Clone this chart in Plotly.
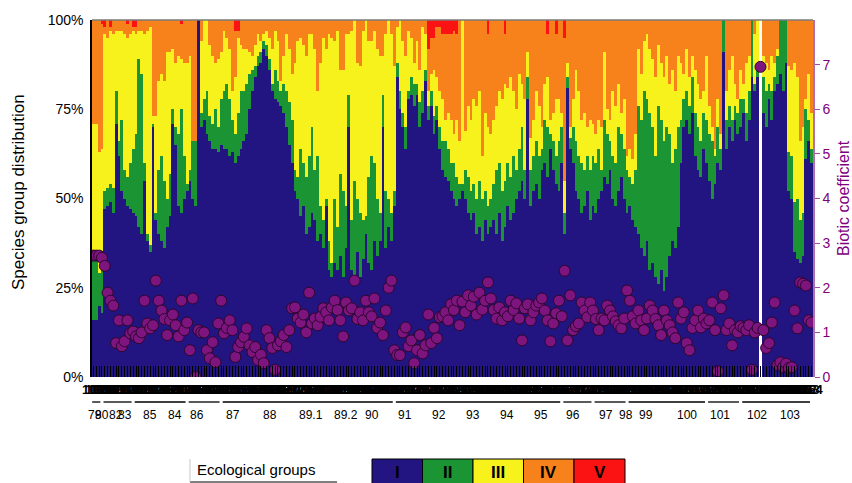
import plotly.graph_objects as go

# ---------------- data ----------------
# cumulative upper edge (%) of each ecological group per sample; V fills to 100
cum_I = [16,16,20,18,47,48,49,46,71,62, 52,50,48,47,46,45,42,40,55,38,
         35,70,44,40,38,36,42,45,71,65, 48,46,50,52,55,50,48,100,70,72,
         68,66,64,64,63,65,64,64,62,63, 60,62,64,66,68,75,80,84,87,88,
         92,90,86,80,78,77,76,74,70,65, 60,52,50,45,48,40,42,46,44,38,
         40,36,48,30,28,32,30,34,28,36, 70,30,26,35,28,33,40,32,30,38,
         34,38,70,36,42,38,48,84,75,70, 64,78,79,76,79,70,74,83,72,76,
         68,72,64,58,56,55,52,50,48,50, 52,50,46,44,46,40,42,38,44,40,
         42,44,40,46,38,42,48,44,46,50, 52,55,50,78,48,52,54,50,58,60,
         56,64,58,54,52,60,40,81,64,60, 52,50,46,48,52,44,48,46,50,52,
         56,54,58,50,48,52,56,50,46,48, 44,42,40,36,34,38,30,32,28,26,
         30,24,28,34,38,36,42,60,70,72, 68,74,62,58,56,64,60,55,50,54,
         60,58,91,64,70,66,72,68,70,74, 66,72,84,80,84,None,74,70,78,72,
         80,82,85,80,88,52,50,35,33,32, 34,61,66,60]
cum_II = [34,33,29,30,52,53,54,53,80,66, 72,58,56,60,64,68,89,85,60,40,
          37,71,46,58,62,55,50,57,75,70, 68,75,62,54,58,66,66,100,74,78,
          80,73,71,75,70,78,80,82,78,72, 68,74,80,80,82,85,86,87,90,91,
          94,93,89,82,86,83,80,82,80,77, 72,58,56,64,60,56,62,70,58,62,
          48,44,50,38,32,50,42,57,52,48, 79,44,55,50,46,44,45,56,62,60,
          50,46,79,52,50,46,52,88,80,74, 70,80,84,82,82,77,80,86,76,80,
          73,76,70,66,66,64,60,60,56,54, 54,58,56,52,54,50,55,50,52,48,
          50,54,58,60,52,55,60,56,62,58, 64,70,58,84,58,62,66,62,64,72,
          70,68,66,62,66,70,46,84,67,70, 66,62,60,58,62,58,62,60,64,58,
          72,68,66,62,60,70,68,64,58,56, 54,58,76,72,80,78,74,70,62,76,
          72,66,70,68,60,64,70,72,78,80, 76,84,74,70,66,74,72,68,66,62,
          70,64,100,72,76,72,76,74,78,78, 74,80,100,82,86,None,84,80,82,80,
          84,90,100,100,100,63,62,49,50,44, 46,75,72,64]
cum_III = [71,71,63,64,96,95,97,96,97,97, 97,96,95,96,97,96,97,97,96,97,
           98,73,73,83,85,83,91,91,92,88, 90,89,88,88,90,66,66,100,94,100,
           100,93,90,88,89,91,97,95,92,80, 84,95,93,92,92,91,90,93,96,94,
           96,97,95,92,97,94,83,90,96,92, 85,88,94,95,93,90,96,96,92,80,
           88,95,92,96,95,94,97,86,86,96, 96,97,100,88,87,97,100,94,94,97,
           92,90,90,96,100,96,87,98,100,94, 90,97,95,88,94,86,98,96,80,85,
           86,84,80,78,72,74,72,68,72,66, 100,69,76,72,78,76,80,62,74,70,
           68,72,76,80,78,82,81,84,80,75, 85,82,78,91,67,72,80,76,70,82,
           84,72,74,78,78,74,55,88,70,78, 86,80,72,74,70,72,71,68,72,70,
           91,75,72,80,76,82,74,78,62,64, 61,68,92,85,94,96,92,89,84,93,
           88,84,90,82,86,80,90,88,85,92, 84,90,86,82,78,80,90,76,70,64,
           78,68,100,80,86,90,82,78,86,82, 88,90,100,96,100,None,90,88,86,90,
           88,92,100,100,100,87,86,88,84,66, 70,78,85,74]
cum_IV = [100,100,100,99,98,100,98,100,100,100, 100,100,99,100,98,98,100,100,100,100,
          100,100,100,100,100,100,100,100,100,100, 100,99,100,100,100,100,100,100,100,100,
          100,100,100,100,100,100,100,100,100,100, 97,97,100,100,100,100,100,100,100,100,
          100,100,100,100,100,100,100,100,100,100, 100,100,100,100,100,100,100,100,100,100,
          100,100,100,100,100,100,100,100,100,100, 100,100,100,100,100,100,100,100,100,100,
          100,100,100,100,100,100,100,100,100,100, 100,100,100,100,100,100,100,100,92,95,
          95,98,98,96,96,96,96,97,96,100, 100,100,100,100,100,100,100,100,100,96,
          100,100,100,100,100,96,100,100,100,100, 100,100,100,100,100,100,100,100,100,100,
          96,100,100,96,100,100,95,100,100,100, 100,100,100,100,100,100,100,100,100,100,
          100,100,100,100,100,100,100,100,100,100, 100,100,100,100,100,100,100,100,100,100,
          100,100,100,100,100,100,100,100,100,100, 100,100,100,100,100,100,100,100,100,100,
          100,100,100,100,100,100,100,100,100,100, 100,100,100,100,100,None,100,100,100,100,
          100,100,100,100,100,100,100,100,100,100, 100,100,100,100]

biotic = [2.72,2.72,2.72,2.67,2.49,1.89,1.71,1.6,0.76,1.27, 0.69,0.8,1.27,0.98,1.02,0.91,0.87,1.0,1.71,1.2,
          1.09,1.16,2.16,1.71,1.49,1.3,0.94,1.27,1.4,1.16, 0.91,1.71,1.05,1.22,0.6,1.76,0.0,1.05,1.0,1.0,
          0.6,0.42,0.78,0.33,1.2,1.71,0.98,1.1,1.27,1.05, 0.45,0.67,0.78,0.9,1.09,0.71,0.56,0.67,0.38,0.5,
          0.31,1.05,0.87,0.65,0.16,0.71,0.8,0.94,0.67,1.05, 1.54,1.56,1.31,1.22,1.4,1.0,1.89,1.2,1.31,1.16,
          1.35,1.54,1.45,1.27,1.56,1.71,1.5,1.27,0.91,1.67, 1.49,1.54,2.16,1.3,1.45,1.27,1.71,1.45,1.36,1.76,
          1.1,1.22,0.94,1.49,2.0,2.16,0.6,0.49,0.49,1.0, 1.11,0.69,0.82,0.31,0.6,0.94,0.53,0.71,1.4,0.76,
          1.1,0.87,1.34,1.36,1.45,1.27,1.63,1.5,1.71,1.16, 1.69,1.45,1.83,1.6,1.8,1.4,1.89,1.51,1.71,2.12,
          1.76,1.5,1.31,1.56,1.27,1.45,1.36,1.71,1.5,1.65, 1.31,0.82,1.54,1.63,1.27,1.45,1.6,1.67,1.76,1.49,
          1.27,0.8,1.2,1.43,1.71,1.36,2.38,0.82,1.83,1.05, 1.14,1.2,1.67,1.49,1.34,1.67,1.49,1.3,1.05,1.31,
          1.27,1.6,1.49,1.36,1.25,1.16,1.09,1.31,1.94,1.71, 1.36,1.2,1.49,1.27,1.05,1.31,1.6,1.49,1.3,1.16,
          0.94,1.49,1.27,1.16,1.0,0.87,1.67,1.31,1.45,0.76, 0.6,1.1,1.27,1.49,1.11,1.31,1.2,1.27,1.67,1.05,
          0.13,1.54,1.83,1.05,1.2,0.71,1.05,1.0,1.14,1.1, 1.05,1.16,0.16,1.0,1.1,6.95,1.05,0.65,0.76,1.22,
          1.67,0.27,0.33,0.22,0.3,0.2,0.22,1.49,1.09,2.12, 2.09,2.05,1.27,1.22]

sample_labels = [str(k + 101) for k in range(len(cum_I))]

year_labels = ["79", "80", "82", "83", "85", "84", "86", "87", "88", "89.1", "89.2", "90",
               "91", "92", "93", "94", "95", "96", "97", "98", "99", "100", "101", "102", "103"]
year_pos = [0.7, 2.9, 8.1, 11.0, 20.0, 28.8, 36.5, 49.1, 62.2, 76.6, 89.0, 98.2,
            109.8, 121.7, 133.8, 145.8, 157.5, 168.8, 180.5, 187.5, 194.6, 209.2, 220.7, 233.7, 245.4]
seg_start = [0, 4, 15, 34, 46, 107, 166, 177, 189, 217, 229]
seg_end = [2, 13, 32, 44, 105, 164, 175, 187, 215, 227, 252]

groups = ["I", "II", "III", "IV", "V"]
colors = ["#221581", "#1b9433", "#f7f21c", "#f7821b", "#fb1313"]

# ---------------- derived shares ----------------
def diff(top, low):
    return [None if t is None else t - (l if l is not None else 0) for t, l in zip(top, low)]

zeros = [0] * len(cum_I)
share = [
    diff(cum_I, zeros),
    diff(cum_II, cum_I),
    diff(cum_III, cum_II),
    diff(cum_IV, cum_III),
    [None if t is None else 100 - t for t in cum_IV],
]
idx = list(range(len(cum_I)))

# ---------------- layout geometry ----------------
W, H = 852, 483
L, R, T, B = 92, 39, 20, 106
PH = H - T - B
PW = W - L - R

def py(ypx):
    return (H - B - ypx) / PH

def px(xpx):
    return (xpx - L) / PW

FONT = "Liberation Sans, Arial, sans-serif"

fig = go.Figure()
for g, c, s in zip(groups, colors, share):
    fig.add_trace(go.Bar(x=idx, y=s, name=g, marker=dict(color=c, line=dict(width=0)),
                         width=1.0, showlegend=False, hoverinfo="skip"))

fig.add_trace(go.Scatter(x=idx, y=biotic, yaxis="y2", mode="markers", showlegend=False,
                         marker=dict(size=11, color="#7e147e",
                                     line=dict(color="#2e062e", width=1))))

shapes = []
shapes.append(dict(type="line", xref="paper", yref="paper", x0=0, x1=1, y0=1, y1=1,
                   line=dict(color="#7a7a7a", width=1.5)))
for s, e in zip(seg_start, seg_end):
    shapes.append(dict(type="line", xref="x", yref="paper", x0=s - 0.45, x1=e + 0.45,
                       y0=py(402), y1=py(402), line=dict(color="black", width=1.3)))

annotations = []
# dense sample-number labels under the axis (they overlap as in the original)
for i, t in zip(idx, sample_labels):
    annotations.append(dict(x=i, y=py(389), xref="x", yref="paper", text="<b>" + t + "</b>",
                            showarrow=False, xanchor="center", yanchor="middle",
                            font=dict(family=FONT, size=13, color="black")))

for lab, pos in zip(year_labels, year_pos):
    annotations.append(dict(x=pos, y=py(415), xref="x", yref="paper", text=lab,
                            showarrow=False, font=dict(family=FONT, size=12, color="black"),
                            xanchor="center", yanchor="middle"))

# axis titles
annotations.append(dict(x=px(19), y=py(192), xref="paper", yref="paper",
                        text="Species group distribution", textangle=-90, showarrow=False,
                        xanchor="center", yanchor="middle",
                        font=dict(family=FONT, size=17, color="black")))
annotations.append(dict(x=px(843), y=py(198), xref="paper", yref="paper",
                        text="Biotic coefficient", textangle=-90, showarrow=False,
                        xanchor="center", yanchor="middle",
                        font=dict(family=FONT, size=16, color="#800080")))

# legend: "Ecological groups" label + coloured boxes
shapes.append(dict(type="line", xref="paper", yref="paper", x0=px(190), x1=px(337),
                   y0=py(482), y1=py(482), line=dict(color="black", width=1.2)))
shapes.append(dict(type="line", xref="paper", yref="paper", x0=px(190), x1=px(190),
                   y0=py(459), y1=py(482), line=dict(color="#c8c8c8", width=1)))
annotations.append(dict(x=px(195), y=py(469), xref="paper", yref="paper",
                        text="Ecological groups", showarrow=False, xanchor="left",
                        yanchor="middle", font=dict(family=FONT, size=15, color="black")))
box_edges = [372, 422.5, 473, 523.5, 574, 625]
for k, (g, c) in enumerate(zip(groups, colors)):
    x0, x1 = box_edges[k], box_edges[k + 1]
    shapes.append(dict(type="rect", xref="paper", yref="paper", x0=px(x0), x1=px(x1),
                       y0=py(484), y1=py(459), fillcolor=c,
                       line=dict(color="black", width=1)))
    annotations.append(dict(x=px((x0 + x1) / 2), y=py(472), xref="paper", yref="paper",
                            text="<b>" + g + "</b>", showarrow=False,
                            xanchor="center", yanchor="middle",
                            font=dict(family=FONT, size=17, color="black")))

fig.update_layout(
    width=W, height=H,
    margin=dict(l=L, r=R, t=T, b=B, pad=0),
    paper_bgcolor="white", plot_bgcolor="white",
    barmode="stack", bargap=0,
    font=dict(family=FONT, color="black"),
    xaxis=dict(range=[-0.5, len(idx) - 0.5], tickmode="array", tickvals=idx,
               showticklabels=False,
               ticks="inside", ticklen=11, tickcolor="black", tickwidth=1,
               showgrid=False, zeroline=False, showline=False, fixedrange=True),
    yaxis=dict(range=[0, 100], tickmode="array", tickvals=[0, 25, 50, 75, 100],
               ticktext=["0%", "25%", "50%", "75%", "100%"],
               tickfont=dict(family=FONT, size=14, color="black"),
               ticklabelstandoff=4,
               showgrid=False, zeroline=False, showline=True, linecolor="black",
               linewidth=1.5, ticks=""),
    yaxis2=dict(range=[0, 8], overlaying="y", side="right", tickmode="array",
                tickvals=[0, 1, 2, 3, 4, 5, 6, 7],
                tickfont=dict(family=FONT, size=14, color="#800080"),
                ticks="outside", ticklen=5, tickcolor="#a050a0",
                showgrid=False, zeroline=False, showline=True, linecolor="#b070b0",
                linewidth=1.5),
    shapes=shapes,
    annotations=annotations,
)

fig.write_html("out.html")
